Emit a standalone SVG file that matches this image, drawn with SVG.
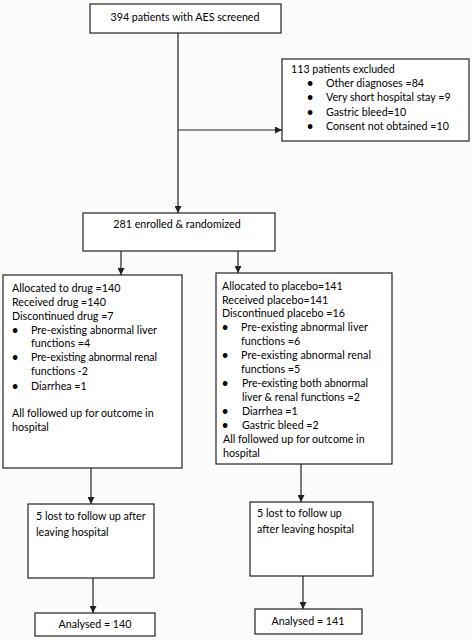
<svg xmlns="http://www.w3.org/2000/svg" width="472" height="640" viewBox="0 0 472 640">
<defs>
<style>
.box{fill:#fff;stroke:#222;stroke-width:1.2}
.t{font-family:Lato,"Open Sans","Liberation Sans",sans-serif;font-size:10.7px;fill:#000}
.c{text-anchor:middle}
.b{font-size:10.7px;font-weight:bold}
.ln{stroke:#222;stroke-width:1.2;fill:none}
</style>
<marker id="ah" viewBox="0 0 10 10" refX="10" refY="5" markerWidth="7" markerHeight="7" orient="auto" markerUnits="userSpaceOnUse">
<path d="M0,0 L10,5 L0,10 z" fill="#222"/>
</marker>
</defs>
<rect width="472" height="640" fill="#fbfbfa"/>
<g id="connectors">
<line class="ln" x1="178" y1="33" x2="178" y2="213" marker-end="url(#ah)"/>
<line class="ln" x1="178" y1="130" x2="282" y2="130" marker-end="url(#ah)"/>
<line class="ln" x1="121" y1="251" x2="121" y2="275" marker-end="url(#ah)"/>
<line class="ln" x1="238" y1="251" x2="238" y2="273" marker-end="url(#ah)"/>
<line class="ln" x1="91" y1="468" x2="91" y2="504" marker-end="url(#ah)"/>
<line class="ln" x1="301" y1="464" x2="301" y2="502" marker-end="url(#ah)"/>
<line class="ln" x1="93" y1="578" x2="93" y2="613" marker-end="url(#ah)"/>
<line class="ln" x1="303" y1="576" x2="303" y2="609" marker-end="url(#ah)"/>
</g>
<g id="screened">
<rect class="box" x="90" y="4" width="191" height="29"/>
<text class="t c" x="185" y="21">394 patients with AES screened</text>
</g>
<g id="excluded">
<rect class="box" x="282" y="59" width="187" height="82"/>
<text class="t" x="291" y="73">113 patients excluded</text>
<g class="t">
<text class="b" x="307" y="87">•</text><text x="326" y="87">Other diagnoses =84</text>
<text class="b" x="307" y="101">•</text><text x="326" y="101">Very short hospital stay =9</text>
<text class="b" x="307" y="116">•</text><text x="326" y="116">Gastric bleed=10</text>
<text class="b" x="307" y="130">•</text><text x="326" y="130">Consent not obtained =10</text>
</g>
</g>
<g id="enrolled">
<rect class="box" x="83" y="213" width="192" height="38"/>
<text class="t c" x="177" y="228">281 enrolled &amp; randomized</text>
</g>
<g id="drug">
<rect class="box" x="3" y="275" width="179" height="193"/>
<g class="t">
<text x="12" y="292">Allocated to drug  =140</text>
<text x="12" y="306">Received drug =140</text>
<text x="12" y="320">Discontinued drug =7</text>
<text class="b" x="12" y="334">•</text><text x="31" y="334" textLength="126" lengthAdjust="spacing">Pre-existing abnormal liver</text>
<text x="31" y="347">functions =4</text>
<text class="b" x="12" y="361">•</text><text x="31" y="361" textLength="126" lengthAdjust="spacing">Pre-existing abnormal renal</text>
<text x="31" y="375">functions -2</text>
<text class="b" x="12" y="390">•</text><text x="31" y="390">Diarrhea =1</text>
<text x="12" y="417">All followed up for outcome in</text>
<text x="12" y="431">hospital</text>
</g>
</g>
<g id="placebo">
<rect class="box" x="216" y="273" width="176" height="191"/>
<g class="t">
<text x="222" y="290">Allocated to placebo=141</text>
<text x="222" y="304">Received placebo=141</text>
<text x="222" y="317">Discontinued placebo =16</text>
<text class="b" x="222" y="331">•</text><text x="241" y="331" textLength="127" lengthAdjust="spacing">Pre-existing abnormal liver</text>
<text x="241" y="345">functions =6</text>
<text class="b" x="222" y="359">•</text><text x="241" y="359" textLength="130" lengthAdjust="spacing">Pre-existing abnormal renal</text>
<text x="241" y="373">functions =5</text>
<text class="b" x="222" y="387">•</text><text x="242" y="387" textLength="126" lengthAdjust="spacing">Pre-existing both abnormal</text>
<text x="242" y="401">liver &amp; renal functions =2</text>
<text class="b" x="222" y="415">•</text><text x="242" y="415">Diarrhea =1</text>
<text class="b" x="222" y="429">•</text><text x="242" y="429">Gastric bleed =2</text>
<text x="223" y="443">All followed up for outcome in</text>
<text x="223" y="457">hospital</text>
</g>
</g>
<g id="lost-drug">
<rect class="box" x="28" y="504" width="126" height="74"/>
<text class="t" x="36" y="520">5 lost to follow up after</text>
<text class="t" x="36" y="536">leaving hospital</text>
</g>
<g id="lost-placebo">
<rect class="box" x="250" y="502" width="123" height="74"/>
<text class="t" x="257" y="517">5 lost to follow up</text>
<text class="t" x="257" y="533">after leaving hospital</text>
</g>
<g id="analysed-drug">
<rect class="box" x="35" y="613" width="120" height="23"/>
<text class="t c" x="95" y="628">Analysed = 140</text>
</g>
<g id="analysed-placebo">
<rect class="box" x="255" y="609" width="107" height="25"/>
<text class="t c" x="308" y="625">Analysed = 141</text>
</g>
</svg>
